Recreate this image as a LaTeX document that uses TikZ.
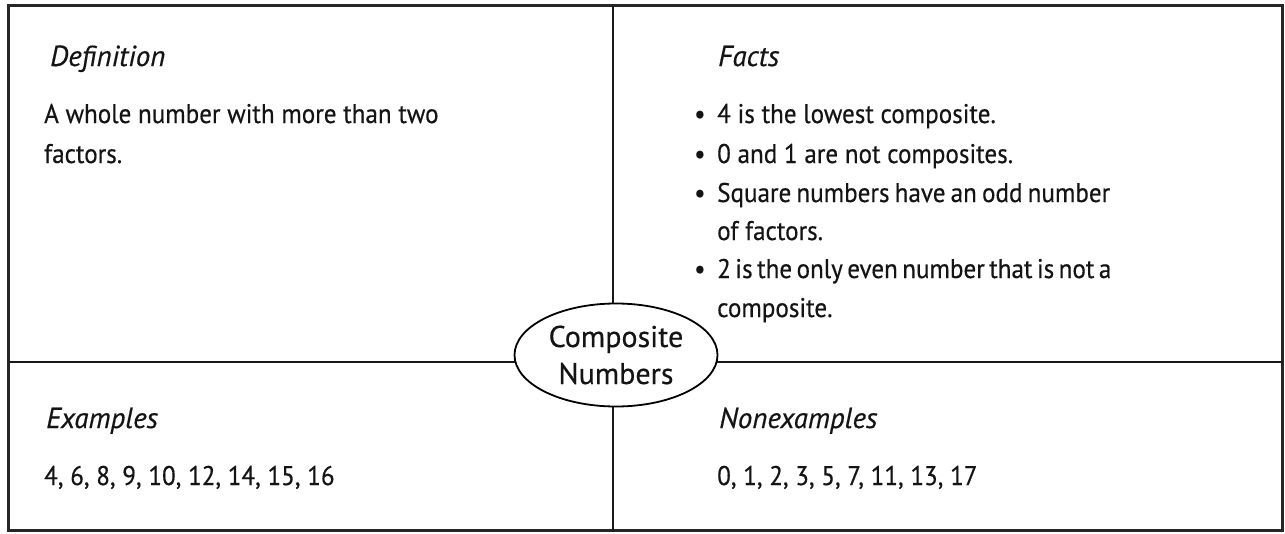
\documentclass[tikz,border=0pt]{standalone}
\usepackage{fontspec}
\setmainfont{PT Sans}[FakeStretch=0.93, FakeBold=0.4]
\newfontfamily\headfont{PT Sans}[FakeBold=0.4]
\newfontfamily\centrefont{PT Sans}[FakeBold=0.4]
\usetikzlibrary{shapes.geometric}
\begin{document}
\begin{tikzpicture}[x=1pt,y=-1pt,
  every node/.style={inner sep=0pt, text=black!92},
  txt/.style={anchor=base west, font=\fontsize{27}{32}\selectfont},
  head/.style={anchor=base west, font=\headfont\fontsize{29}{32}\selectfont\itshape},
  bul/.style={anchor=base west, font=\fontsize{27}{32}\selectfont},
  frame/.style={line width=3pt, black!85},
  divider/.style={line width=2.6pt, black!90},
  centre/.style={ellipse, draw, line width=1.8pt, fill=white, minimum width=203pt, minimum height=103pt, align=center, font=\centrefont\fontsize{30}{37}\selectfont}]
\useasboundingbox (0,0) rectangle (1285,533);
\fill[white] (0,0) rectangle (1285,533);
\coordinate (tl) at (8.5,5.5);
\coordinate (br) at (1282.5,530.5);
\coordinate (top) at (613,5.5);
\coordinate (bot) at (613,530.5);
\coordinate (lft) at (8.5,362);
\coordinate (rgt) at (1282.5,362);
\draw[frame] (tl) rectangle (br);
\draw[divider] (top) -- (bot);
\draw[divider] (lft) -- (rgt);
\node[centre] (c) at (616,355) {Composite\\Numbers};
% Definition
\node[head] (defh) at (50,66) {Definition};
\node[txt] (def1) at (44,123) {A whole number with more than two};
\node[txt] (def2) at (44,163) {factors.};
% Facts
\node[head] (facth) at (718,66) {Facts};
\node[bul] (b1) at (694,123) {\textbullet};
\node[txt] (f1) at (717,123) {4 is the lowest composite.};
\node[bul] (b2) at (694,163) {\textbullet};
\node[txt] (f2) at (717,163) {0 and 1 are not composites.};
\node[bul] (b3) at (694,202) {\textbullet};
\node[txt] (f3) at (717,202) {\makebox[393pt][s]{Square numbers have an odd number}};
\node[txt] (f4) at (717,240) {of factors.};
\node[bul] (b4) at (694,278) {\textbullet};
\node[txt] (f5) at (717,278) {\makebox[393pt][s]{2 is the only even number that is not a}};
\node[txt] (f6) at (717,317) {composite.};
% Examples
\node[head] (exh) at (46,428) {Examples};
\node[txt] (ex1) at (44,485) {4, 6, 8, 9, 10, 12, 14, 15, 16};
% Nonexamples
\node[head] (nexh) at (719,428) {Nonexamples};
\node[txt] (nex1) at (717,485) {0, 1, 2, 3, 5, 7, 11, 13, 17};
\end{tikzpicture}
\end{document}
